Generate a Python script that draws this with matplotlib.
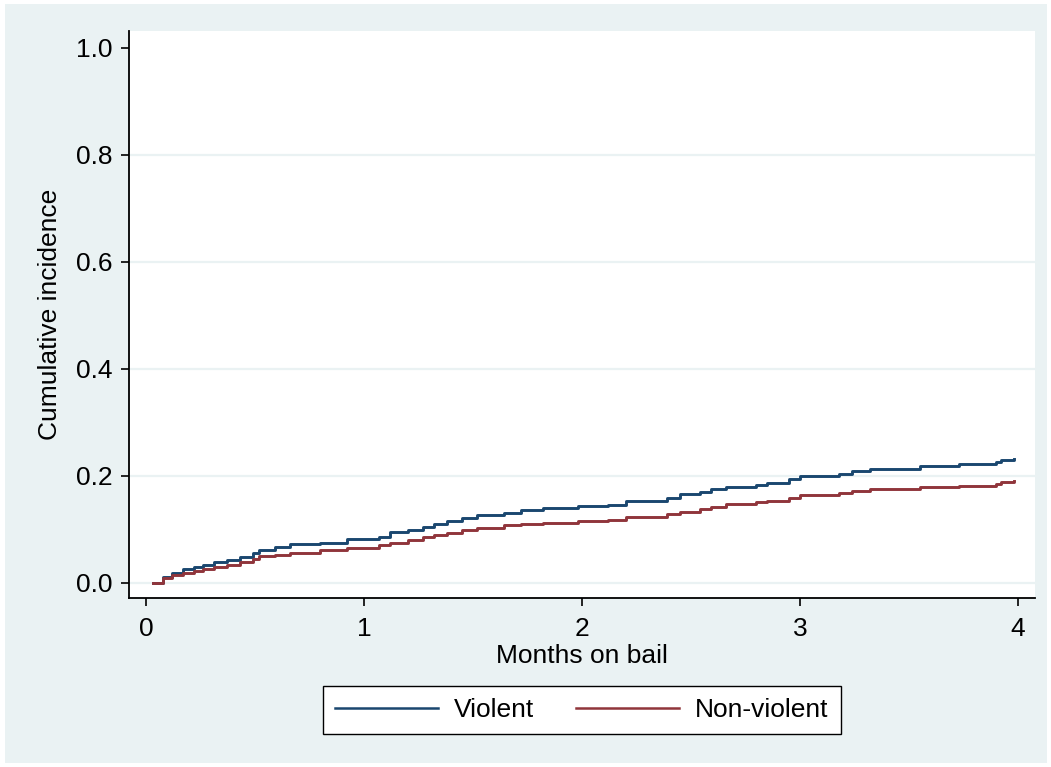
import matplotlib
matplotlib.use("Agg")
import matplotlib.pyplot as plt
from matplotlib.patches import Rectangle

plt.rcParams['font.family'] = ['Liberation Sans', 'DejaVu Sans']

# cumulative incidence by months on bail (step estimates)
violent_t = [0.03, 0.08, 0.12, 0.17, 0.22, 0.26, 0.31, 0.37, 0.43, 0.49, 0.52, 0.59, 0.66,
             0.80, 0.92, 1.07, 1.12, 1.20, 1.27, 1.32, 1.38, 1.45, 1.52, 1.64, 1.72, 1.82,
             1.98, 2.12, 2.20, 2.39, 2.45, 2.54, 2.59, 2.66, 2.80, 2.85, 2.95, 3.00, 3.18,
             3.24, 3.32, 3.55, 3.73, 3.90, 3.92, 3.98]
violent_ci = [0.000, 0.010, 0.019, 0.025, 0.030, 0.033, 0.038, 0.042, 0.048, 0.056, 0.061, 0.066, 0.072,
              0.075, 0.082, 0.086, 0.095, 0.099, 0.105, 0.110, 0.116, 0.121, 0.127, 0.131, 0.135, 0.139,
              0.143, 0.146, 0.153, 0.159, 0.166, 0.170, 0.175, 0.179, 0.183, 0.187, 0.193, 0.199, 0.204,
              0.209, 0.213, 0.218, 0.221, 0.225, 0.229, 0.231]

nonviolent_t = [0.03, 0.08, 0.12, 0.17, 0.22, 0.26, 0.31, 0.37, 0.43, 0.49, 0.52, 0.59, 0.66,
                0.80, 0.92, 1.07, 1.12, 1.20, 1.27, 1.32, 1.38, 1.45, 1.52, 1.64, 1.72, 1.82,
                1.98, 2.12, 2.20, 2.39, 2.45, 2.54, 2.59, 2.66, 2.80, 2.85, 2.95, 3.00, 3.18,
                3.24, 3.32, 3.55, 3.73, 3.90, 3.92, 3.98]
nonviolent_ci = [0.000, 0.008, 0.014, 0.018, 0.022, 0.025, 0.029, 0.033, 0.038, 0.044, 0.049, 0.052, 0.056,
                 0.061, 0.065, 0.070, 0.075, 0.080, 0.085, 0.089, 0.093, 0.098, 0.102, 0.107, 0.109, 0.112,
                 0.115, 0.118, 0.122, 0.128, 0.133, 0.137, 0.141, 0.147, 0.150, 0.153, 0.159, 0.164, 0.167,
                 0.171, 0.175, 0.178, 0.181, 0.184, 0.188, 0.190]

x_ticks = [0, 1, 2, 3, 4]
y_ticks = [0.0, 0.2, 0.4, 0.6, 0.8, 1.0]

bg = '#EAF2F3'
c_violent = '#1A476F'
c_nonviolent = '#90353B'

W, H = 1051, 767
fig = plt.figure(figsize=(W / 100, H / 100), dpi=100, facecolor='white')
fig.patches.append(Rectangle((5 / W, 4 / H), (W - 9) / W, (H - 8) / H,
                             transform=fig.transFigure, facecolor=bg, edgecolor='none', zorder=-10))

ax = fig.add_axes([129 / W, (H - 598) / H, (1035 - 129) / W, (598 - 31) / H])
ax.set_facecolor('white')

for yv in y_ticks[:-1]:
    ax.axhline(yv, color=bg, lw=1.6, zorder=1)

ax.plot(violent_t, violent_ci, drawstyle='steps-post', color=c_violent, lw=2.1,
        label='Violent', zorder=3)
ax.plot(nonviolent_t, nonviolent_ci, drawstyle='steps-post', color=c_nonviolent, lw=2.1,
        label='Non-violent', zorder=3)

ax.set_xlim(-0.078, 4.078)
ax.set_ylim(-0.0286, 1.031)
ax.set_xticks(x_ticks)
ax.set_xticklabels([str(v) for v in x_ticks])
ax.set_yticks(y_ticks)
ax.set_yticklabels(['%.1f' % v for v in y_ticks])

for s in ['top', 'right']:
    ax.spines[s].set_visible(False)
for s in ['left', 'bottom']:
    ax.spines[s].set_linewidth(1.3)
    ax.spines[s].set_color('black')

ax.tick_params(axis='both', direction='out', length=6, width=1.2, labelsize=19, colors='black')
ax.tick_params(axis='x', pad=8)
ax.tick_params(axis='y', pad=6)

ax.set_xlabel('Months on bail', fontsize=19, labelpad=2)
ax.set_ylabel('Cumulative incidence', fontsize=19, labelpad=10)

leg = fig.legend(loc='center', bbox_to_anchor=(582 / W, (H - 710) / H), ncol=2,
                 fontsize=19, handlelength=3.9, handletextpad=0.6, columnspacing=1.6,
                 fancybox=False, frameon=True, borderpad=0.45)
leg.get_frame().set_edgecolor('black')
leg.get_frame().set_linewidth(1.0)
leg.get_frame().set_facecolor('white')
leg.get_frame().set_alpha(1)
for line in leg.get_lines():
    line.set_linewidth(1.8)

fig.savefig('out.png', dpi=100, facecolor='white')
